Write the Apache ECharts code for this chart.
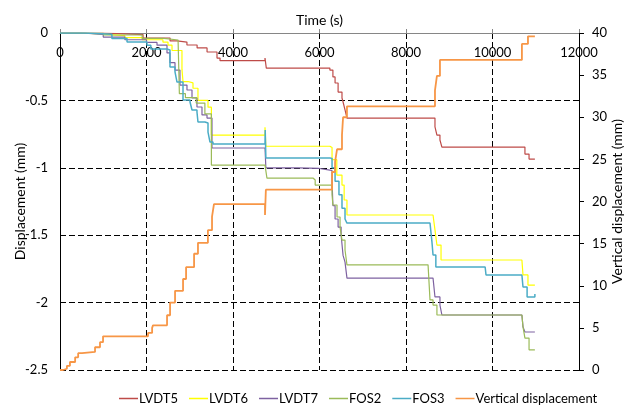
<!DOCTYPE html>
<html>
<head>
<meta charset="utf-8">
<script src="https://cdn.jsdelivr.net/npm/echarts@6/dist/echarts.min.js"></script>
<style>
  html, body { margin: 0; padding: 0; background: #fff; }
  #chart { width: 625px; height: 412px; }
</style>
</head>
<body>
<div id="chart"></div>
<script>
// [time (s), displacement (mm)] — readings taken at load steps
const lvdt5 = [[0,0],[1000,-0.012],[1920,-0.037],[2545,-0.059],[2705,-0.067],[2935,-0.089],[3170,-0.111],[3400,-0.141],[3630,-0.186],[3700,-0.205],[4740,-0.186],[4770,-0.26],[6010,-0.26],[6240,-0.275],[6310,-0.326],[6360,-0.371],[6430,-0.438],[6520,-0.482],[6545,-0.512],[6590,-0.571],[6635,-0.631],[8670,-0.697],[8715,-0.757],[8785,-0.794],[8830,-0.846],[10680,-0.846],[10750,-0.898],[10845,-0.935],[10980,-0.935]];
const lvdt6 = [[0,0],[500,-0.008],[1000,-0.02],[1500,-0.035],[1900,-0.05],[2380,-0.067],[2497,-0.09],[2590,-0.13],[2820,-0.27],[2844,-0.36],[2960,-0.37],[3075,-0.41],[3190,-0.5],[3422,-0.55],[3500,-0.757],[4740,-0.70],[4760,-0.84],[6000,-0.84],[6240,-0.85],[6290,-0.94],[6400,-1.054],[6520,-1.128],[6570,-1.239],[6635,-1.35],[8625,-1.35],[8670,-1.46],[8715,-1.573],[8810,-1.684],[10680,-1.684],[10705,-1.795],[10820,-1.87],[10980,-1.87]];
const lvdt7 = [[0,0],[500,-0.01],[1000,-0.03],[1500,-0.05],[2000,-0.07],[2243,-0.09],[2474,-0.148],[2543,-0.22],[2659,-0.275],[2774,-0.386],[2936,-0.423],[3052,-0.482],[3167,-0.549],[3283,-0.608],[3399,-0.631],[3514,-0.853],[4740,-0.86],[4760,-1.0],[5500,-1.005],[6000,-1.017],[6240,-1.02],[6290,-1.1],[6310,-1.28],[6360,-1.38],[6430,-1.44],[6500,-1.5],[6545,-1.65],[6590,-1.7],[6635,-1.818],[8625,-1.818],[8670,-1.958],[8785,-2.018],[8830,-2.092],[10680,-2.092],[10705,-2.18],[10750,-2.218],[10980,-2.218]];
const fos2 = [[0,0],[1000,-0.015],[1900,-0.04],[2400,-0.052],[2730,-0.055],[2760,-0.45],[2900,-0.48],[3150,-0.52],[3350,-0.6],[3500,-0.98],[4740,-0.98],[4785,-1.076],[5850,-1.09],[5900,-1.128],[6240,-1.128],[6290,-1.2],[6310,-1.276],[6405,-1.365],[6475,-1.44],[6520,-1.536],[6590,-1.61],[6635,-1.72],[8510,-1.72],[8555,-1.98],[8625,-2.018],[8715,-2.092],[10680,-2.092],[10705,-2.18],[10750,-2.263],[10845,-2.35],[10980,-2.35]];
const fos3 = [[0,0],[600,-0.01],[1200,-0.04],[1550,-0.067],[2011,-0.09],[2100,-0.119],[2474,-0.126],[2543,-0.252],[2659,-0.289],[2705,-0.364],[2844,-0.497],[3006,-0.512],[3052,-0.571],[3167,-0.586],[3190,-0.66],[3352,-0.668],[3422,-0.735],[3468,-0.809],[3537,-0.824],[4740,-0.81],[4745,-0.72],[4760,-0.927],[6000,-0.927],[6240,-0.93],[6290,-1.0],[6360,-1.1],[6450,-1.2],[6520,-1.3],[6590,-1.38],[6635,-1.41],[8555,-1.41],[8600,-1.55],[8625,-1.647],[8690,-1.736],[9830,-1.736],[9850,-1.795],[10680,-1.795],[10705,-1.884],[10800,-1.958],[10980,-1.936]];
// [time (s), vertical displacement (mm)] on the right axis
const vertDisp = [[0,0],[70,0.15],[160,0.5],[230,0.95],[350,1.5],[420,2.0],[510,2.15],[810,2.7],[925,3.3],[995,4.0],[2035,4.4],[2130,5.0],[2150,5.3],[2475,6.5],[2545,8.0],[2660,9.4],[2845,10.8],[2915,12.2],[3100,13.8],[3190,15.1],[3420,16.6],[3515,18.2],[3560,19.7],[4740,18.4],[4760,21.4],[6290,23.5],[6360,24.7],[6405,26.2],[6520,27.9],[6545,30.0],[6635,31.3],[8670,33.2],[8715,34.9],[8785,36.8],[10680,38.7],[10820,39.6],[10980,39.6]];

const names = ["LVDT5", "LVDT6", "LVDT7", "FOS2", "FOS3", "Vertical displacement"];
const colors = ["#BE4B48", "#FFFF00", "#7E62A1", "#9BBB59", "#4BACC6", "#F79646"];

const font = "Lato, 'Open Sans', sans-serif";
const dash = { color: "#000", type: [6, 3], width: 1 };

let myCharts = echarts.init(document.getElementById("chart"));

function mkSeries(name, data, idx, yIdx, width) {
  return {
    name: name,
    type: "line",
    step: "end",
    yAxisIndex: yIdx,
    data: data,
    symbol: "none",
    lineStyle: { color: colors[idx], width: width },
    itemStyle: { color: colors[idx] },
  };
}

let option = {
  animation: false,
  textStyle: { fontFamily: font },
  grid: { left: 60, right: 46, top: 33, bottom: 42, outerBoundsMode: "none" },
  legend: {
    bottom: 2,
    left: 114,
    width: 520,
    icon: "rect",
    itemWidth: 19,
    itemHeight: 1.5,
    itemGap: 11,
    textStyle: { fontFamily: font, fontSize: 13, color: "#000", padding: [0, 0, 0, -4] },
    data: names,
  },
  xAxis: {
    type: "value",
    position: "top",
    min: 0,
    max: 12000,
    interval: 2000,
    name: "Time (s)",
    nameLocation: "middle",
    nameGap: 6,
    nameMoveOverlap: false,
    nameTextStyle: { fontFamily: font, fontSize: 14, color: "#000" },
    axisLine: { onZero: false, lineStyle: { color: "#868686", width: 1 } },
    axisTick: { show: true, length: 4, lineStyle: { color: "#868686" } },
    axisLabel: {
      inside: true,
      margin: 13,
      fontFamily: font,
      fontSize: 13,
      color: "#000",
      formatter: (v) => String(v),
    },
    splitLine: { show: true, lineStyle: dash },
  },
  yAxis: [
    {
      type: "value",
      min: -2.5,
      max: 0,
      interval: 0.5,
      name: "Displacement (mm)",
      nameLocation: "middle",
      nameGap: 33,
      nameMoveOverlap: false,
      nameTextStyle: { fontFamily: font, fontSize: 14, color: "#000" },
      axisLine: { show: true, lineStyle: { color: "#000" } },
      axisTick: { show: false },
      axisLabel: { margin: 12, fontFamily: font, fontSize: 13, color: "#000" },
      splitLine: { show: true, lineStyle: dash },
    },
    {
      type: "value",
      min: 0,
      max: 40,
      interval: 5,
      name: "Vertical displacement (mm)",
      nameLocation: "middle",
      nameGap: 31,
      nameMoveOverlap: false,
      nameRotate: 90,
      nameTextStyle: { fontFamily: font, fontSize: 14, color: "#000" },
      axisLine: { show: true, lineStyle: { color: "#000" } },
      axisTick: { show: true, length: 5, lineStyle: { color: "#000" } },
      axisLabel: { margin: 13, fontFamily: font, fontSize: 13, color: "#000" },
      splitLine: { show: false },
    },
  ],
  series: [
    mkSeries(names[0], lvdt5, 0, 0, 1.2),
    mkSeries(names[1], lvdt6, 1, 0, 1.2),
    mkSeries(names[2], lvdt7, 2, 0, 1.2),
    mkSeries(names[3], fos2, 3, 0, 1.2),
    mkSeries(names[4], fos3, 4, 0, 1.5),
    mkSeries(names[5], vertDisp, 5, 1, 1.8),
  ],
};
myCharts.setOption(option);
</script>
</body>
</html>
